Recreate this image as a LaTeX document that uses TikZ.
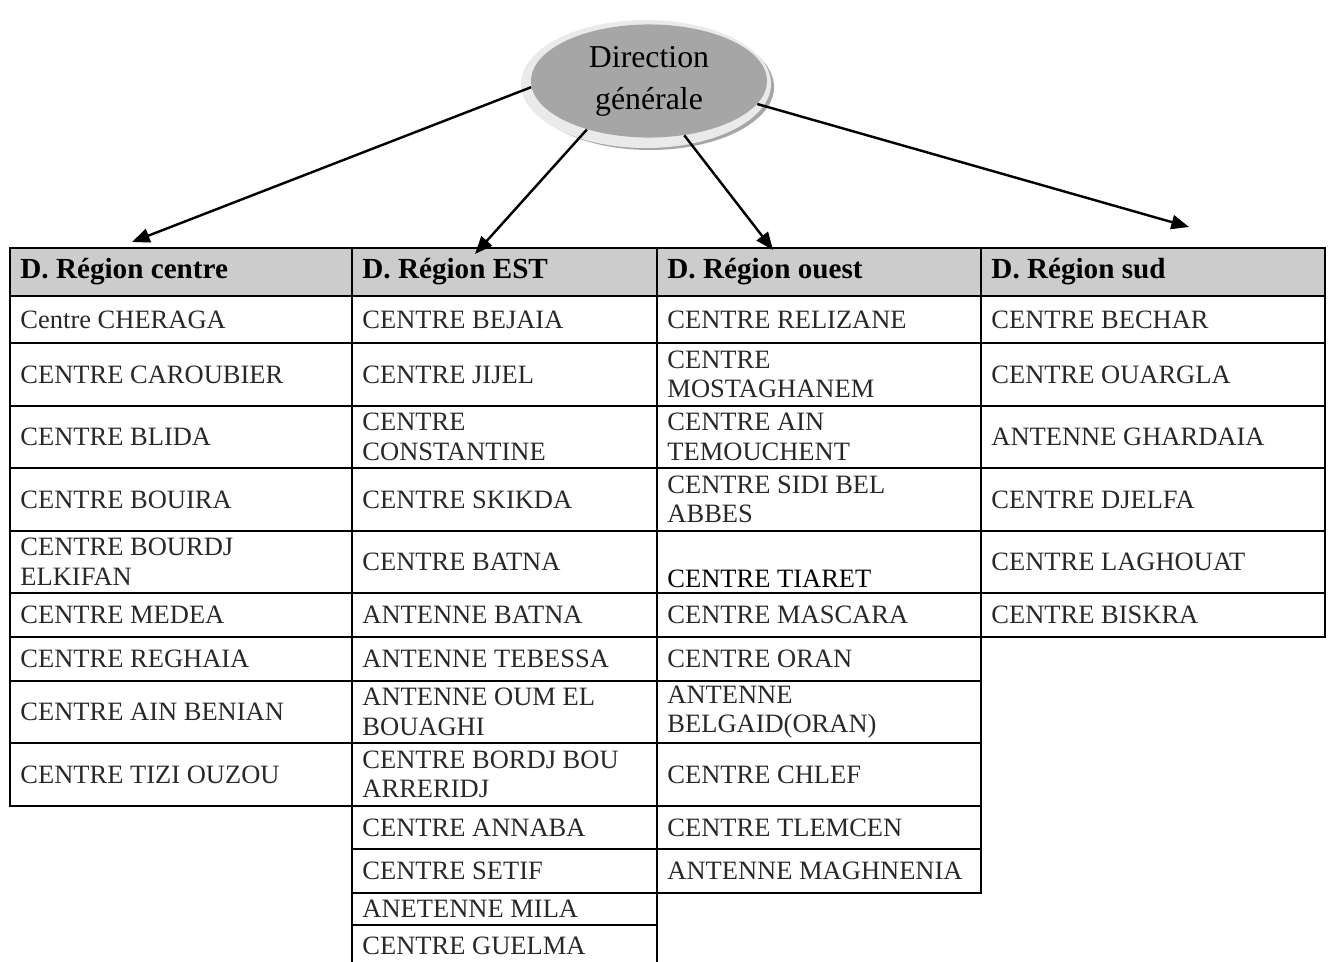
\documentclass[tikz,border=0pt]{standalone}
\usepackage{fontspec}
\setmainfont{Liberation Serif}
\usetikzlibrary{shapes.geometric,arrows.meta}
\definecolor{headgray}{RGB}{204,204,204}
\definecolor{ovalgray}{RGB}{166,166,166}
\definecolor{rimgray}{RGB}{234,234,234}
\definecolor{celltext}{RGB}{40,40,40}

\begin{document}
\begin{tikzpicture}[x=0.4528pt, y=-0.4528pt, >={Triangle[length=8pt,width=6.4pt]},
    grid/.style={line width=1.1pt},
    cell/.style={anchor=west, inner sep=0pt, align=left, text=celltext,
        font=\fontsize{12}{13.4}\selectfont},
    head/.style={anchor=west, inner sep=0pt, font=\fontsize{13.2}{15}\selectfont\bfseries}]
    \useasboundingbox (0,0) rectangle (1330,962);

    % Direction generale
    \fill[black!35] (650,87) ellipse [x radius=124, y radius=63];
    \fill[rimgray] (646,84) ellipse [x radius=125, y radius=64];
    \node[ellipse, fill=ovalgray, minimum width=106.9pt, minimum height=51.2pt, inner sep=0pt,
        align=center, font=\fontsize{14.4}{19}\selectfont] (dg) at (649,81) {Direction\\générale};

    % arrow ends
    \coordinate (t1) at (132,242);
    \coordinate (t2) at (475,254);
    \coordinate (t3) at (773,250);
    \coordinate (t4) at (1189,227);

    % Header
    \fill[headgray] (10,248) rectangle (1325,296);
    \draw[grid] (10,248) rectangle (352,296);
    \draw[grid] (352,248) rectangle (657,296);
    \draw[grid] (657,248) rectangle (981,296);
    \draw[grid] (981,248) rectangle (1325,296);
    \node[head] (h1) at (20,272) {D. Région centre};
    \node[head] (h2) at (362,272) {D. Région EST};
    \node[head] (h3) at (667,272) {D. Région ouest};
    \node[head] (h4) at (991,272) {D. Région sud};

    % D. Region centre
    \foreach \a/\b/\t [count=\i] in {296/343/Centre CHERAGA, 343/406/CENTRE CAROUBIER,
        406/468/CENTRE BLIDA, 468/531/CENTRE BOUIRA, 531/593/CENTRE BOURDJ\\ELKIFAN,
        593/637/CENTRE MEDEA, 637/681/CENTRE REGHAIA, 681/743/CENTRE AIN BENIAN,
        743/806/CENTRE TIZI OUZOU}{
        \draw[grid] (10,\a) rectangle (352,\b);
        \node[cell] (c1-\i) at (20,{(\a+\b)/2}) {\t};
    }

    % D. Region EST
    \foreach \a/\b/\t [count=\i] in {296/343/CENTRE BEJAIA, 343/406/CENTRE JIJEL,
        406/468/CENTRE\\CONSTANTINE, 468/531/CENTRE SKIKDA, 531/593/CENTRE BATNA,
        593/637/ANTENNE BATNA, 637/681/ANTENNE TEBESSA, 681/743/ANTENNE OUM EL\\BOUAGHI,
        743/806/CENTRE BORDJ BOU\\ARRERIDJ, 806/849/CENTRE ANNABA, 849/893/CENTRE SETIF,
        893/925/ANETENNE MILA, 925/966/CENTRE GUELMA}{
        \draw[grid] (352,\a) rectangle (657,\b);
        \node[cell] (c2-\i) at (362,{(\a+\b)/2}) {\t};
    }

    % D. Region ouest
    \foreach \a/\b/\t [count=\i] in {296/343/CENTRE RELIZANE, 343/406/CENTRE\\MOSTAGHANEM,
        406/468/CENTRE AIN\\TEMOUCHENT, 468/531/CENTRE SIDI BEL\\ABBES,
        531/593/\strut\\\textcolor{black}{CENTRE TIARET}, 593/637/CENTRE MASCARA,
        637/681/CENTRE ORAN, 681/743/ANTENNE\\BELGAID(ORAN), 743/806/CENTRE CHLEF,
        806/849/CENTRE TLEMCEN, 849/893/ANTENNE MAGHNENIA}{
        \draw[grid] (657,\a) rectangle (981,\b);
        \node[cell] (c3-\i) at (667,{(\a+\b)/2}) {\t};
    }

    % D. Region sud
    \foreach \a/\b/\t [count=\i] in {296/343/CENTRE BECHAR, 343/406/CENTRE OUARGLA,
        406/468/ANTENNE GHARDAIA, 468/531/CENTRE DJELFA, 531/593/CENTRE LAGHOUAT,
        593/637/CENTRE BISKRA}{
        \draw[grid] (981,\a) rectangle (1325,\b);
        \node[cell] (c4-\i) at (991,{(\a+\b)/2}) {\t};
    }

    % Arrows
    \draw[->, grid] (dg.183) -- (t1);
    \draw[->, grid] (dg.218) -- (t2);
    \draw[->, grid] (dg.303) -- (t3);
    \draw[->, grid] (dg.348) -- (t4);
\end{tikzpicture}
\end{document}
